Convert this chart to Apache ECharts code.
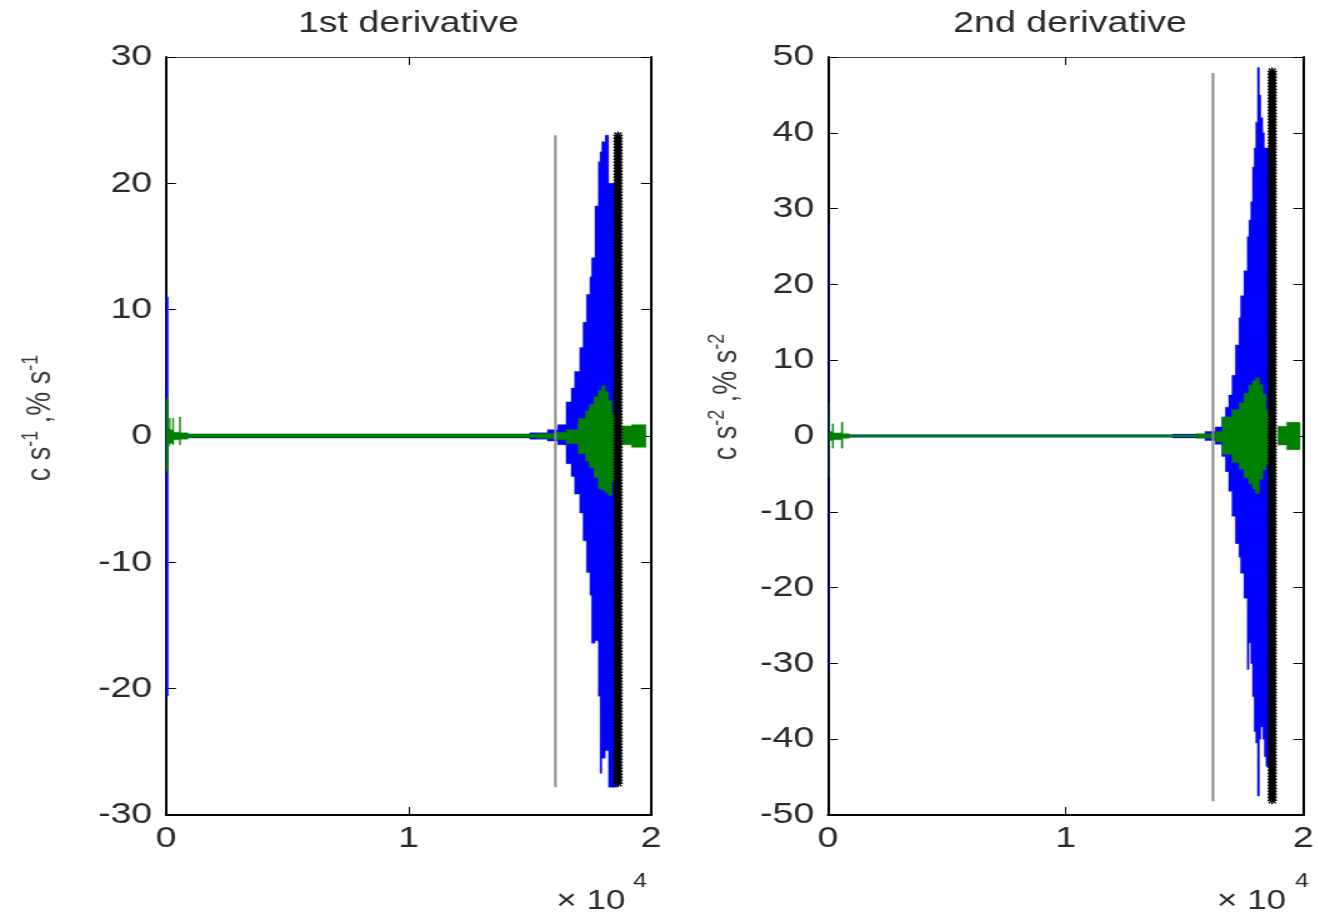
<!DOCTYPE html>
<html>
<head>
<meta charset="utf-8">
<script src="https://cdn.jsdelivr.net/npm/echarts@6/dist/echarts.min.js"></script>
<style>
  html, body { margin: 0; padding: 0; background: #fff; overflow: hidden; }
  /* the figure is laid out narrow and widened horizontally */
  #chart { width: 1054.4px; height: 917px; transform: scaleX(1.25); transform-origin: 0 0; }
</style>
</head>
<body>
<div id="chart"></div>
<script>
// Panel titles, unit labels and axis ranges
const panelTitles = ['1st derivative', '2nd derivative'];
const unitLabels = [['c s', '-1', ' ,% s', '-1'], ['c s', '-2', ' ,% s', '-2']];
const xRange = [0, 20000];
const xStep = 10000;
const xExponent = '4';
const yRange1 = [-30, 30];
const yRange2 = [-50, 50];
const yStep = 10;

// Signal envelopes, one column per entry: [x start, x end, lower, upper]
const blue1 = [
  [0, 100, -20.6, 11.0],
  [100, 15000, -0.15, 0.15],
  [15000, 15730, -0.25, 0.25],
  [15730, 16150, -0.4, 0.5],
  [16150, 16500, -0.7, 0.9],
  [16500, 16710, -2.2, 2.7],
  [16710, 16850, -3.2, 3.8],
  [16850, 17060, -4.6, 5.1],
  [17060, 17200, -6.1, 7.0],
  [17200, 17340, -8.3, 9.0],
  [17340, 17480, -10.8, 11.2],
  [17480, 17550, -12.6, 12.6],
  [17550, 17690, -16.4, 14.1],
  [17690, 17830, -16.2, 18.2],
  [17830, 17900, -20.6, 21.7],
  [17900, 17970, -26.7, 22.5],
  [17970, 18110, -25.5, 23.3],
  [18110, 18250, -24.9, 23.8],
  [18250, 18390, -27.8, 20.0],
  [18390, 18600, -27.8, 20.0]
];
const green1 = [
  [0, 100, -2.8, 3.0],
  [100, 140, -0.8, 0.6],
  [140, 180, -0.6, 1.4],
  [180, 280, -0.6, 0.5],
  [280, 320, -0.7, 1.4],
  [320, 550, -0.3, 0.3],
  [550, 600, -0.7, 1.5],
  [600, 900, -0.25, 0.25],
  [900, 15300, -0.12, 0.15],
  [15300, 16100, -0.2, 0.2],
  [16100, 16500, -0.3, 0.3],
  [16500, 17000, -0.6, 0.5],
  [17000, 17300, -1.4, 1.4],
  [17300, 17450, -2.0, 2.0],
  [17450, 17650, -2.5, 2.5],
  [17650, 17830, -3.3, 3.1],
  [17830, 17970, -4.2, 3.6],
  [17970, 18110, -4.3, 4.0],
  [18110, 18250, -4.5, 3.5],
  [18250, 18390, -4.7, 2.8],
  [18390, 18600, -3.6, 1.8],
  [18800, 19200, -0.7, 0.8],
  [19200, 19790, -0.9, 0.9]
];
const blue2 = [
  [0, 70, -31.3, 27.9],
  [70, 14500, -0.15, 0.15],
  [14500, 15860, -0.25, 0.25],
  [15860, 16290, -0.6, 0.6],
  [16290, 16570, -1.1, 1.2],
  [16570, 16720, -2.7, 2.5],
  [16720, 16860, -4.7, 3.8],
  [16860, 17000, -7.3, 5.4],
  [17000, 17140, -10.6, 8.0],
  [17140, 17290, -14.2, 12.0],
  [17290, 17360, -16.0, 15.6],
  [17360, 17500, -18.1, 18.5],
  [17500, 17640, -21.4, 21.8],
  [17640, 17710, -30.8, 26.3],
  [17710, 17790, -27.3, 28.5],
  [17790, 17860, -30.0, 30.9],
  [17860, 17930, -34.4, 35.5],
  [17930, 18000, -39.0, 38.0],
  [18000, 18070, -40.5, 41.4],
  [18070, 18150, -47.5, 48.6],
  [18150, 18210, -40.0, 45.0],
  [18210, 18290, -38.4, 42.0],
  [18290, 18360, -40.0, 40.0],
  [18360, 18430, -42.3, 38.0],
  [18430, 18600, -43.6, 38.0]
];
const green2 = [
  [0, 70, -5.4, 4.4],
  [70, 180, -0.6, 0.6],
  [180, 230, -1.6, 1.6],
  [230, 560, -0.5, 0.4],
  [560, 620, -1.6, 1.8],
  [620, 900, -0.3, 0.3],
  [900, 15500, -0.12, 0.15],
  [15500, 16300, -0.3, 0.3],
  [16300, 16600, -0.8, 0.6],
  [16600, 17000, -2.4, 2.5],
  [17000, 17300, -3.5, 3.5],
  [17300, 17500, -4.4, 4.4],
  [17500, 17700, -5.5, 5.6],
  [17700, 17860, -6.3, 6.7],
  [17860, 18000, -7.0, 7.3],
  [18000, 18150, -7.6, 7.7],
  [18150, 18290, -5.7, 6.8],
  [18290, 18430, -4.5, 5.5],
  [18430, 18600, -3.7, 3.5],
  [18930, 19300, -1.2, 1.3],
  [19300, 19860, -1.8, 1.8]
];

// Vertical markers: [x, lower, upper]
const greyLine1 = [16060, -27.8, 23.8];
const greyLine2 = [16200, -48.2, 47.9];
const stars1 = [18640, -27.8, 24.1];
const stars2 = [18690, -48.8, 48.6];

const FONT = '"Liberation Sans", Arial, sans-serif';
const BLUE = '#0000ff';
const GREEN = '#008000';

const grids = [
  { left: 132.8, top: 57, width: 388, height: 758 },
  { left: 662.4, top: 57, width: 387.2, height: 758 }
];

function axesFor(gridIndex, yr) {
  const tick = { show: true, inside: true, length: 8, lineStyle: { color: '#000', width: 1 } };
  const label = { color: '#2a2a2a', fontFamily: FONT, fontSize: 30 };
  const xCommon = { gridIndex, type: 'value', min: xRange[0], max: xRange[1], interval: xStep, splitLine: { show: false } };
  const yCommon = { gridIndex, type: 'value', min: yr[0], max: yr[1], interval: yStep, splitLine: { show: false } };
  return {
    x: [
      Object.assign({}, xCommon, {
        position: 'bottom',
        axisLine: { show: true, onZero: false, lineStyle: { color: '#000', width: 2 } },
        axisTick: tick,
        axisLabel: Object.assign({}, label, { margin: 9, formatter: v => String(v / xStep) })
      }),
      Object.assign({}, xCommon, {
        position: 'top',
        axisLine: { show: true, onZero: false, lineStyle: { color: '#444', width: 1 } },
        axisTick: tick,
        axisLabel: { show: false }
      })
    ],
    y: [
      Object.assign({}, yCommon, {
        position: 'left',
        axisLine: { show: true, onZero: false, lineStyle: { color: '#000', width: 2 } },
        axisTick: tick,
        axisLabel: Object.assign({}, label, { margin: 11 })
      }),
      Object.assign({}, yCommon, {
        position: 'right',
        axisLine: { show: true, onZero: false, lineStyle: { color: '#000', width: 2 } },
        axisTick: tick,
        axisLabel: { show: false }
      })
    ]
  };
}

// Envelope of an oscillating signal: the first column (the start-up transient)
// is drawn on its own, the rest as one stepped polygon per contiguous run.
function envelopeSeries(data, color, axisIndex, edgeOpacity) {
  const runStart = data.map((d, i) => i <= 1 || d[0] !== data[i - 1][1]);
  return {
    type: 'custom',
    xAxisIndex: axisIndex,
    yAxisIndex: axisIndex,
    clip: false,
    z: 2,
    encode: { x: 0, y: 3 },
    data: data,
    renderItem(params, api) {
      const i = params.dataIndex;
      if (i === 0) {
        const a = api.coord([data[0][0], data[0][3]]);
        const b = api.coord([data[0][1], data[0][2]]);
        return {
          type: 'rect',
          shape: { x: a[0], y: a[1], width: b[0] - a[0], height: b[1] - a[1] },
          style: { fill: color, stroke: null, opacity: edgeOpacity }
        };
      }
      if (!runStart[i]) return { type: 'group', children: [] };
      let j = i;
      while (j + 1 < data.length && !runStart[j + 1]) j++;
      const top = [], bottom = [];
      for (let k = i; k <= j; k++) {
        const d = data[k];
        top.push(api.coord([d[0], d[3]]), api.coord([d[1], d[3]]));
        bottom.push(api.coord([d[0], d[2]]), api.coord([d[1], d[2]]));
      }
      return {
        type: 'polygon',
        shape: { points: top.concat(bottom.reverse()) },
        style: { fill: color, stroke: color, lineWidth: 0.4 }
      };
    }
  };
}

// Thin grey vertical line
function greySeries(item, axisIndex) {
  return {
    type: 'line',
    xAxisIndex: axisIndex,
    yAxisIndex: axisIndex,
    data: [[item[0], item[1]], [item[0], item[2]]],
    symbol: 'none',
    silent: true,
    z: 4,
    lineStyle: { color: '#8a8a8a', width: 2 }
  };
}

// Column of stacked asterisk markers
function starSeries(item, axisIndex) {
  return {
    type: 'custom',
    xAxisIndex: axisIndex,
    yAxisIndex: axisIndex,
    clip: false,
    z: 5,
    encode: { x: 0, y: 1 },
    data: [item],
    renderItem(params, api) {
      const t = api.coord([item[0], item[2]]);
      const b = api.coord([item[0], item[1]]);
      const cx = t[0], r = 3.8, d = 2.9;
      const children = [];
      const ln = (x1, y1, x2, y2) => ({
        type: 'line', shape: { x1, y1, x2, y2 }, style: { stroke: '#000', lineWidth: 1.4 }
      });
      for (let y = t[1] + r; y <= b[1] - r + 0.01; y += 3.0) {
        children.push(ln(cx - r, y, cx + r, y));
        children.push(ln(cx, y - r, cx, y + r));
        children.push(ln(cx - d, y - d, cx + d, y + d));
        children.push(ln(cx - d, y + d, cx + d, y - d));
      }
      return { type: 'group', children };
    }
  };
}

const ax1 = axesFor(0, yRange1);
const ax2 = axesFor(1, yRange2);

function unitText(parts) {
  return '{b|' + parts[0] + '}{s|' + parts[1] + '}{b|' + parts[2] + '}{s|' + parts[3] + '}';
}
const unitRich = {
  b: { fontFamily: FONT, fontSize: 27, lineHeight: 30, verticalAlign: 'bottom', fill: '#3a3a3a', color: '#3a3a3a' },
  s: { fontFamily: FONT, fontSize: 18, lineHeight: 30, verticalAlign: 'top', fill: '#3a3a3a', color: '#3a3a3a' }
};

function label(x, y, text, size, extra) {
  return {
    type: 'text',
    x: x, y: y,
    style: Object.assign({
      text: text,
      font: size + 'px ' + FONT,
      fill: '#2a2a2a',
      align: 'center', verticalAlign: 'middle',
      textAlign: 'center', textVerticalAlign: 'middle'
    }, extra || {})
  };
}

const graphics = [
  label(grids[0].left + grids[0].width / 2, 24, panelTitles[0], 30),
  label(grids[1].left + grids[1].width / 2, 24, panelTitles[1], 30),
  {
    type: 'text', x: 31, y: 418, rotation: Math.PI / 2,
    style: { text: unitText(unitLabels[0]), rich: unitRich, align: 'center', verticalAlign: 'middle', textAlign: 'center', textVerticalAlign: 'middle' }
  },
  {
    type: 'text', x: 580, y: 397, rotation: Math.PI / 2,
    style: { text: unitText(unitLabels[1]), rich: unitRich, align: 'center', verticalAlign: 'middle', textAlign: 'center', textVerticalAlign: 'middle' }
  },
  label(445, 901, '\u00d7 10', 28, { align: 'left', textAlign: 'left' }),
  label(506.4, 881, xExponent, 20, { align: 'left', textAlign: 'left' }),
  label(973.6, 901, '\u00d7 10', 28, { align: 'left', textAlign: 'left' }),
  label(1036, 881, xExponent, 20, { align: 'left', textAlign: 'left' })
];

const chart = echarts.init(document.getElementById('chart'), null, { renderer: 'canvas' });
chart.setOption({
  animation: false,
  backgroundColor: '#fff',
  grid: grids,
  xAxis: ax1.x.concat(ax2.x),
  yAxis: ax1.y.concat(ax2.y),
  graphic: graphics,
  series: [
    envelopeSeries(blue1, BLUE, 0, 1),
    envelopeSeries(green1, GREEN, 0, 1),
    greySeries(greyLine1, 0),
    starSeries(stars1, 0),
    envelopeSeries(blue2, BLUE, 2, 0.45),
    envelopeSeries(green2, GREEN, 2, 0.45),
    greySeries(greyLine2, 2),
    starSeries(stars2, 2)
  ]
});
</script>
</body>
</html>
